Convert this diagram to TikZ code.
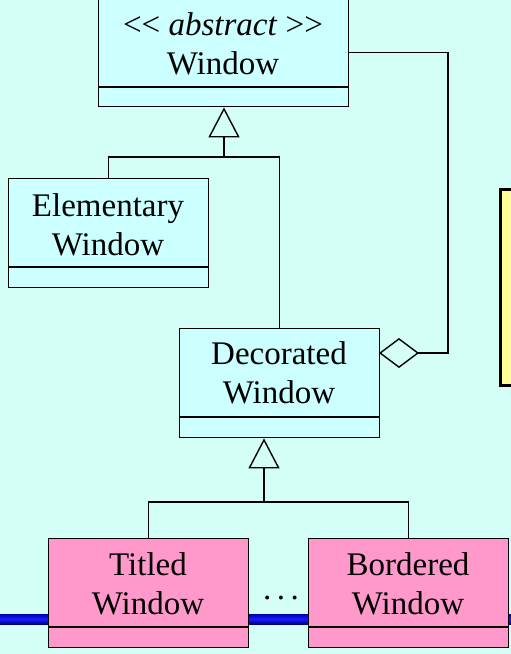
\documentclass[tikz,border=0pt]{standalone}
\usepackage{fontspec}
\setmainfont[Ligatures=NoCommon]{Liberation Serif}
\newfontfamily\tms{Liberation Serif}
\usetikzlibrary{arrows.meta}
\definecolor{bgc}{HTML}{D4FFF6}
\definecolor{boxc}{HTML}{CCFFFF}
\definecolor{pinkc}{HTML}{FF99CC}
\definecolor{yelc}{HTML}{FFFF99}
\tikzset{
  cls/.style={draw=black, line width=1.4pt, rectangle, minimum width=200pt, minimum height=109pt, inner sep=0pt, fill=boxc},
  lbl/.style={align=center, font=\tms\fontsize{33}{39.5}\selectfont, inner sep=0pt},
  sep/.style={line width=1.4pt},
  conn/.style={line width=1.4pt},
  gen/.style={conn, -{Triangle[open, length=30pt, width=31pt, line width=1.4pt]}},
  aggr/.style={conn, -{Diamond[open, length=40pt, width=30pt, line width=1.4pt]}},
}
\begin{document}
\begin{tikzpicture}[x=1pt, y=-1pt]
\useasboundingbox (0,0) rectangle (511,654);
\fill[bgc] (0,0) rectangle (511,654);
% yellow note (clipped)
\node[draw=black, line width=3pt, fill=yelc, minimum width=40pt, minimum height=196pt, anchor=north west, inner sep=0pt] (note) at (498.5,187.5) {};
% blue bar
\shade[top color=blue!70!black, bottom color=blue!50!black, middle color=blue!90!white] (0,614) rectangle (511,624);
% classes
\node[cls, minimum width=250pt, minimum height=108pt, anchor=north west] (win) at (98,-2) {};
\draw[sep] (98,87) -- (348,87);
\node[lbl] (winT) at (223,44) {\textless\textless\ \textit{abstract} \textgreater\textgreater\\Window};

\node[cls, anchor=north west] (elem) at (8,178) {};
\draw[sep] (8,267) -- (208,267);
\node[lbl] (elemT) at (108,225) {Elementary\\Window};

\node[cls, anchor=north west] (dec) at (179,328) {};
\draw[sep] (179,417) -- (379,417);
\node[lbl] (decT) at (279,373) {Decorated\\Window};

\node[cls, fill=pinkc, anchor=north west] (tit) at (48,538) {};
\draw[sep] (48,627) -- (248,627);
\node[lbl] (titT) at (148,584) {Titled\\Window};

\node[cls, fill=pinkc, anchor=north west] (bor) at (308,538) {};
\draw[sep] (308,627) -- (508,627);
\node[lbl] (borT) at (408,584) {Bordered\\Window};

\node[font=\tms\fontsize{33}{39.5}\selectfont, inner sep=0pt] (dots) at (281,598) {.\,.\,.};

% connectors
\coordinate (j1) at (224,157);
\coordinate (j2) at (264,502);
\coordinate (ca) at (448,353);
\coordinate (da) at (379,353);
\draw[conn] (elem.north) |- (j1) -| (dec.north);
\draw[gen] (j1) -- (j1 |- win.south);
\draw[conn] (tit.north) |- (j2) -| (bor.north);
\draw[gen] (j2) -- (j2 |- dec.south);
\draw[aggr] (win.east) -| (ca) -- (da);
\end{tikzpicture}
\end{document}
